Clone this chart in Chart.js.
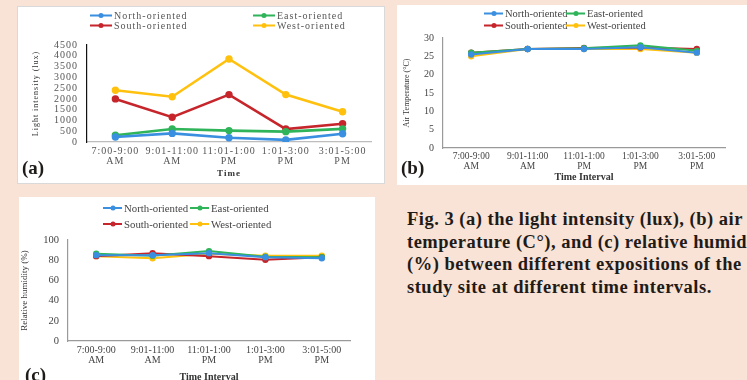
<!DOCTYPE html>
<html>
<head>
<meta charset="utf-8">
<script src="https://cdn.jsdelivr.net/npm/chart.js@4.4.1/dist/chart.umd.min.js"></script>
<style>
  body {
    margin: 0;
    width: 747px;
    height: 380px;
    overflow: hidden;
    position: relative;
    background: #f9e3d6;
    font-family: "Liberation Serif", "Times New Roman", serif;
  }
  .panel { position: absolute; background: #fff; }
  .panel canvas { position: absolute; left: 0; top: 0; }
  .legend { position: absolute; white-space: nowrap; color: #444; }
  .legend .item { position: absolute; display: flex; align-items: center; transform: translateY(-50%); }
  .legend .swatch { position: relative; height: 2px; margin-right: 2px; }
  .legend .swatch::after {
    content: ""; position: absolute; left: 50%; top: 50%;
    width: 5px; height: 5px; border-radius: 50%;
    background: inherit; transform: translate(-50%, -50%);
  }
  .tag { position: absolute; font-weight: bold; font-size: 19px; color: #1f1b18; line-height: 1; }
  .caption {
    position: absolute; left: 407px; top: 208px;
    font-weight: bold; font-size: 18.5px; line-height: 22.6px;
    letter-spacing: 0.5px; color: #1f1b18; white-space: nowrap;
  }
</style>
</head>
<body>
<div class="panel" id="panel-a" style="left:18px;top:7px;width:366px;height:176px;box-shadow:0 0 0 1px #d9d9d9">
  <canvas id="chart-a" width="366" height="176"></canvas>
</div>
<div class="panel" id="panel-b" style="left:397px;top:5px;width:350px;height:180px">
  <canvas id="chart-b" width="350" height="180"></canvas>
</div>
<div class="panel" id="panel-c" style="left:19px;top:197px;width:356px;height:190px">
  <canvas id="chart-c" width="356" height="190"></canvas>
</div>

<div class="legend" id="legend-a" style="font-size:10px;letter-spacing:1px;color:#555"></div>
<div class="legend" id="legend-b" style="font-size:10.5px"></div>
<div class="legend" id="legend-c" style="font-size:10.8px"></div>

<div class="tag" style="left:22px;top:158px">(a)</div>
<div class="tag" style="left:401px;top:158px">(b)</div>
<div class="tag" style="left:25px;top:365px">(c)</div>

<div class="caption">
  Fig. 3 (a) the light intensity (lux), (b) air<br>
  temperature (C°), and (c) relative humidity<br>
  (%) between different expositions of the<br>
  study site at different time intervals.
</div>

<script>
const timeLabels = [
  ["7:00-9:00", "AM"],
  ["9:01-11:00", "AM"],
  ["11:01-1:00", "PM"],
  ["1:01-3:00", "PM"],
  ["3:01-5:00", "PM"],
];
const seriesNames = ["North-oriented", "East-oriented", "South-oriented", "West-oriented"];

// (a) light intensity (lux)
const lightNorth = [230, 400, 200, 100, 380];
const lightEast = [310, 600, 530, 480, 610];
const lightSouth = [2000, 1150, 2200, 600, 850];
const lightWest = [2400, 2100, 3850, 2200, 1400];
const lightTicks = [0, 500, 1000, 1500, 2000, 2500, 3000, 3500, 4000, 4500];

// (b) air temperature (°C)
const tempNorth = [25.5, 27, 27, 27.5, 26];
const tempEast = [26, 27, 27.2, 28, 26.5];
const tempSouth = [26, 27, 27.3, 27.4, 27];
const tempWest = [25, 27, 27, 27, 26];
const tempTicks = [0, 5, 10, 15, 20, 25, 30];

// (c) relative humidity (%)
const humNorth = [85, 85, 87, 83, 82];
const humEast = [86.5, 84.5, 89, 83.5, 83];
const humSouth = [84, 87, 84, 80.5, 83];
const humWest = [84, 82, 86.5, 84.5, 84.5];
const humTicks = [0, 20, 40, 60, 80, 100];

const seriesColors = ["#3a8fe0", "#2fb45a", "#c6262b", "#ffc10e"];

function legend(id, cols, rows, lineWidth) {
  const box = document.getElementById(id);
  seriesNames.forEach((name, i) => {
    const item = document.createElement("div");
    item.className = "item";
    item.style.left = cols[i % 2] + "px";
    item.style.top = rows[Math.floor(i / 2)] + "px";
    const sw = document.createElement("span");
    sw.className = "swatch";
    sw.style.width = lineWidth + "px";
    sw.style.background = seriesColors[i];
    item.appendChild(sw);
    item.appendChild(document.createTextNode(name));
    box.appendChild(item);
  });
}

function spacing(px) {
  return {
    id: "spacing",
    beforeDraw(chart) {
      chart.ctx.letterSpacing = px;
    },
  };
}

function makeChart(canvas, p) {
  return new Chart(canvas, {
    type: "line",
    data: {
      labels: timeLabels,
      datasets: p.series.map((values, i) => ({
        label: seriesNames[i],
        data: values,
        borderColor: seriesColors[i],
        backgroundColor: seriesColors[i],
        borderWidth: p.lineWidth,
        pointRadius: p.pointRadius,
        pointHoverRadius: p.pointRadius,
        tension: 0,
      })),
    },
    options: {
      responsive: false,
      animation: false,
      layout: { padding: p.padding },
      plugins: { legend: { display: false }, tooltip: { enabled: false } },
      scales: {
        x: {
          offset: true,
          grid: { display: false, drawTicks: false },
          border: { color: p.xBorder, width: 1.2 },
          ticks: {
            autoSkip: false,
            maxRotation: 0,
            minRotation: 0,
            padding: p.xTickPad,
            color: p.tickColor,
            font: { family: "Liberation Serif", size: p.xTickSize, lineHeight: 1.0 },
          },
          title: {
            display: true,
            text: p.xTitle,
            color: "#333",
            padding: { top: 0, bottom: p.xTitlePad },
            font: { family: "Liberation Serif", size: p.xTitleSize, weight: "bold" },
          },
          afterFit: (scale) => { scale.height = p.xHeight; },
        },
        y: {
          min: p.ticks[0],
          max: p.ticks[p.ticks.length - 1],
          afterBuildTicks: (scale) => { scale.ticks = p.ticks.map((v) => ({ value: v })); },
          grid: { display: false, drawTicks: false },
          border: { color: p.yBorder, width: 1.2 },
          ticks: {
            autoSkip: false,
            padding: p.yTickPad,
            color: p.tickColor,
            font: { family: "Liberation Serif", size: p.yTickSize },
            callback: (value) => String(value),
          },
          title: {
            display: true,
            text: p.yTitle,
            color: "#333",
            padding: { top: p.yTitlePad, bottom: 0 },
            font: { family: "Liberation Serif", size: p.yTitleSize },
          },
          afterFit: (scale) => { scale.width = p.yWidth; },
        },
      },
    },
    plugins: p.spacing ? [spacing(p.spacing)] : [],
  });
}

makeChart(document.getElementById("chart-a"), {
  series: [lightNorth, lightEast, lightSouth, lightWest],
  ticks: lightTicks,
  padding: { left: 10, right: 13, top: 38, bottom: 0 },
  yWidth: 59,
  xHeight: 41,
  lineWidth: 2.6,
  pointRadius: 2.4,
  xBorder: "#bdbdbd",
  yBorder: "#111",
  tickColor: "#555",
  xTickSize: 10,
  yTickSize: 10,
  xTickPad: 4,
  yTickPad: 9,
  xTitle: "Time",
  xTitleSize: 9,
  xTitlePad: 4,
  yTitle: "Light intensity (lux)",
  yTitleSize: 8,
  yTitlePad: 3,
  spacing: "1px",
});

makeChart(document.getElementById("chart-b"), {
  series: [tempNorth, tempEast, tempSouth, tempWest],
  ticks: tempTicks,
  padding: { left: 2, right: 22, top: 33, bottom: 0 },
  yWidth: 44,
  xHeight: 37,
  lineWidth: 2,
  pointRadius: 2.2,
  xBorder: "#9a9a9a",
  yBorder: "#9a9a9a",
  tickColor: "#444",
  xTickSize: 9.5,
  yTickSize: 10,
  xTickPad: 4,
  yTickPad: 9,
  xTitle: "Time Interval",
  xTitleSize: 10,
  xTitlePad: 2,
  yTitle: "Air Temperature (°C)",
  yTitleSize: 8,
  yTitlePad: 3,
});

makeChart(document.getElementById("chart-c"), {
  series: [humNorth, humEast, humSouth, humWest],
  ticks: humTicks,
  padding: { left: 0, right: 25, top: 43, bottom: 0 },
  yWidth: 49,
  xHeight: 46,
  lineWidth: 2,
  pointRadius: 2.2,
  xBorder: "#9a9a9a",
  yBorder: "#9a9a9a",
  tickColor: "#444",
  xTickSize: 10,
  yTickSize: 10.5,
  xTickPad: 4,
  yTickPad: 9,
  xTitle: "Time Interval",
  xTitleSize: 10,
  xTitlePad: 4,
  yTitle: "Relative humidity (%)",
  yTitleSize: 9,
  yTitlePad: 0,
});

legend("legend-a", [90, 253], [15, 25], 22);
legend("legend-b", [484, 566], [13, 25], 19);
legend("legend-c", [103, 190], [208, 224], 19);
</script>
</body>
</html>
